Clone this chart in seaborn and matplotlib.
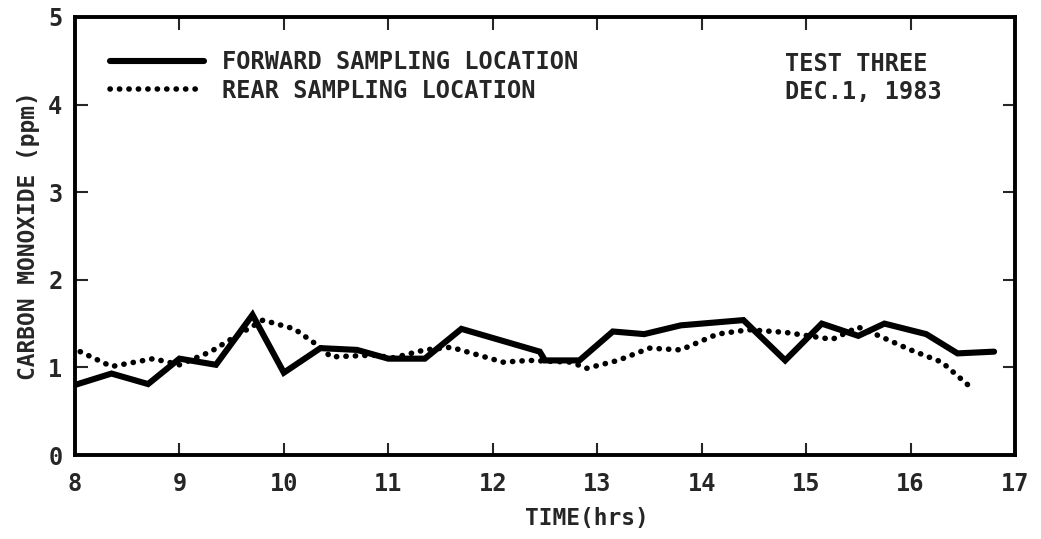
import matplotlib
matplotlib.use("Agg")
import matplotlib.pyplot as plt
import seaborn as sns
import pandas as pd

# Forward sampling location (solid)
fwd_time = [8.0, 8.35, 8.7, 9.0, 9.35, 9.7, 10.0, 10.35, 10.7, 11.0, 11.35, 11.7,
            12.45, 12.5, 12.83, 13.15, 13.45, 13.8, 14.4, 14.8, 15.15, 15.5, 15.75,
            16.15, 16.45, 16.8]
fwd_co = [0.8, 0.93, 0.81, 1.1, 1.03, 1.6, 0.94, 1.22, 1.2, 1.1, 1.1, 1.44,
          1.18, 1.08, 1.08, 1.41, 1.38, 1.48, 1.54, 1.08, 1.5, 1.36, 1.5,
          1.38, 1.16, 1.18]

# Rear sampling location (dotted)
rear_time = [8.05, 8.35, 8.75, 9.0, 9.3, 9.6, 9.8, 10.1, 10.35, 10.45, 10.85, 11.05,
             11.35, 11.6, 12.1, 12.35, 12.75, 12.9, 13.2, 13.5, 13.8, 14.15, 14.45,
             14.8, 15.25, 15.5, 15.7, 16.0, 16.3, 16.55]
rear_co = [1.18, 1.01, 1.1, 1.03, 1.18, 1.4, 1.54, 1.44, 1.23, 1.12, 1.14, 1.11,
           1.2, 1.23, 1.06, 1.08, 1.06, 0.99, 1.08, 1.22, 1.2, 1.38, 1.43,
           1.4, 1.32, 1.46, 1.36, 1.2, 1.06, 0.8]

x_ticks = [8, 9, 10, 11, 12, 13, 14, 15, 16, 17]
y_ticks = [0, 1, 2, 3, 4, 5]

sns.set_style("ticks")
plt.rcParams['font.family'] = ['DejaVu Sans Mono']
plt.rcParams['font.weight'] = 'bold'

fig = plt.figure(figsize=(10.41, 5.39), dpi=100)
ax = fig.add_axes([0.072, 0.1558, 0.903, 0.8127])

df_f = pd.DataFrame({"time": fwd_time, "co": fwd_co})
df_r = pd.DataFrame({"time": rear_time, "co": rear_co})

sns.lineplot(data=df_f, x="time", y="co", ax=ax, color="black", lw=4.4,
             solid_capstyle="round", solid_joinstyle="miter",
             label="FORWARD SAMPLING LOCATION", sort=False)
sns.lineplot(data=df_r, x="time", y="co", ax=ax, color="black", lw=4.0,
             linestyle=(0, (0.05, 1.65)), dash_capstyle="round",
             label="REAR SAMPLING LOCATION", sort=False)

ax.set_xlim(8, 17)
ax.set_ylim(0, 5)
ax.set_xticks(x_ticks)
ax.set_yticks(y_ticks)
ax.set_xticklabels([str(t) for t in x_ticks], fontsize=17, fontweight='bold')
ax.set_yticklabels([str(t) for t in y_ticks], fontsize=17, fontweight='bold')
ax.tick_params(axis="x", direction="in", length=9, width=1.5, top=True,
               labeltop=False, pad=12)
ax.tick_params(axis="y", direction="in", length=9, width=1.5, right=True,
               labelright=False, pad=9)
for sp in ax.spines.values():
    sp.set_linewidth(2.8)
    sp.set_color("black")

ax.set_xlabel("TIME(hrs)", fontsize=16.5, fontweight='bold')
ax.xaxis.set_label_coords(0.545, -0.118)
ax.set_ylabel("CARBON MONOXIDE (ppm)", fontsize=16.5, fontweight='bold', labelpad=6)

leg = ax.legend(loc="upper left", frameon=False, fontsize=17, handlelength=4.0,
                handletextpad=0.75, labelspacing=0.2, bbox_to_anchor=(0.037, 0.925),
                borderaxespad=0.0, borderpad=0.0)
for t in leg.get_texts():
    t.set_fontweight('bold')

ax.text(0.755, 0.86, "TEST THREE\nDEC.1, 1983", transform=ax.transAxes,
        fontsize=17, fontweight='bold', va="center", ha="left", linespacing=1.2)

fig.savefig("out.png", dpi=100)
